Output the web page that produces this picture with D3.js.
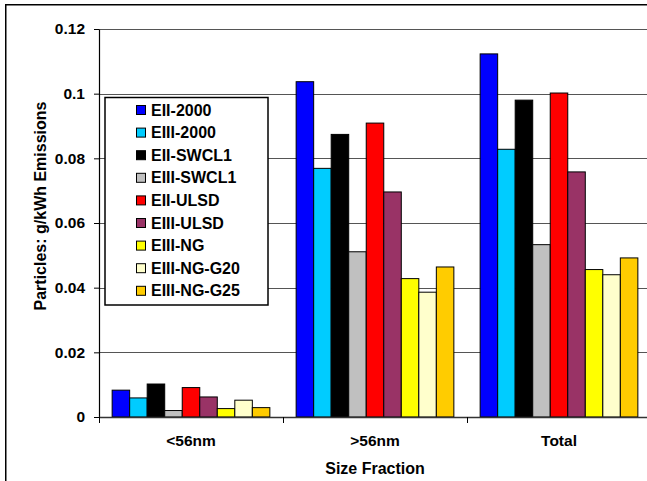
<!DOCTYPE html>
<html>
<head>
<meta charset="utf-8">
<script src="https://cdn.jsdelivr.net/npm/d3@7"></script>
<style>
  html, body { margin: 0; padding: 0; background: #fff; overflow: hidden; }
  svg { display: block; font-family: "Liberation Sans", Arial, sans-serif; }
</style>
</head>
<body>
<svg id="chart" width="647" height="481"></svg>
<script>
// Size fractions on the x axis
const categories = ["<56nm", ">56nm", "Total"];

// Engine / fuel configurations
const seriesNames = ["EII-2000", "EIII-2000", "EII-SWCL1", "EIII-SWCL1", "EII-ULSD",
                     "EIII-ULSD", "EIII-NG", "EIII-NG-G20", "EIII-NG-G25"];
const seriesColors = ["#0000ff", "#00ccff", "#000000", "#c0c0c0", "#ff0000",
                      "#993366", "#ffff00", "#ffffcc", "#ffcc00"];

// Particle emissions, g/kWh, per series in category order
const EII_2000    = [0.0083, 0.1037, 0.1123];
const EIII_2000   = [0.0059, 0.0769, 0.0828];
const EII_SWCL1   = [0.0102, 0.0874, 0.0980];
const EIII_SWCL1  = [0.0020, 0.0511, 0.0533];
const EII_ULSD    = [0.0091, 0.0909, 0.1002];
const EIII_ULSD   = [0.0062, 0.0696, 0.0758];
const EIII_NG     = [0.0026, 0.0428, 0.0456];
const EIII_NG_G20 = [0.0052, 0.0386, 0.0440];
const EIII_NG_G25 = [0.0029, 0.0464, 0.0492];

const yTicks = [0, 0.02, 0.04, 0.06, 0.08, 0.1, 0.12];
const yTickLabels = ["0", "0.02", "0.04", "0.06", "0.08", "0.1", "0.12"];

const seriesValues = [EII_2000, EIII_2000, EII_SWCL1, EIII_SWCL1, EII_ULSD,
                      EIII_ULSD, EIII_NG, EIII_NG_G20, EIII_NG_G25];

const svg = d3.select("#chart");

// Outer chart frame (extends past the window on right and bottom)
svg.append("rect")
  .attr("x", 5.75).attr("y", 4.75)
  .attr("width", 700).attr("height", 600)
  .attr("fill", "#fff").attr("stroke", "#000").attr("stroke-width", 1.5);

const plot = { left: 99, right: 651, top: 29, bottom: 417 };

const x0 = d3.scaleBand().domain(categories)
  .range([plot.left, plot.right]).paddingInner(0).paddingOuter(0);
// 150% gap between clusters: each category holds 9 bars plus 1.5 bar widths of gap
const barW = x0.bandwidth() / 10.5;
const x1 = d3.scaleBand().domain(seriesNames)
  .range([0.75 * barW, x0.bandwidth() - 0.75 * barW]).padding(0);
const y = d3.scaleLinear().domain([0, 0.12]).range([plot.bottom, plot.top]);

// Gridlines
svg.append("g").selectAll("line")
  .data(yTicks.filter(d => d > 0))
  .join("line")
  .attr("x1", plot.left).attr("x2", plot.right)
  .attr("y1", d => Math.round(y(d)) + 0.5).attr("y2", d => Math.round(y(d)) + 0.5)
  .attr("stroke", "#555").attr("stroke-width", 1);

// Bars
const groups = svg.append("g").selectAll("g")
  .data(seriesNames.map((name, i) => ({ name, color: seriesColors[i], values: seriesValues[i] })))
  .join("g")
  .attr("fill", d => d.color);

groups.selectAll("rect")
  .data(d => d.values.map((v, j) => ({ name: d.name, cat: categories[j], v })))
  .join("rect")
  .attr("x", d => x0(d.cat) + x1(d.name))
  .attr("y", d => y(d.v))
  .attr("width", x1.bandwidth())
  .attr("height", d => y(0) - y(d.v))
  .attr("stroke", "#000").attr("stroke-width", 1);

// Y axis
const yAxis = d3.axisLeft(y).tickValues(yTicks)
  .tickFormat((d, i) => yTickLabels[i]).tickSize(5).tickSizeOuter(0).tickPadding(9);
const gy = svg.append("g").attr("transform", `translate(${plot.left},0)`).call(yAxis);
gy.select(".domain").attr("stroke", "#000").attr("stroke-width", 1.2);
gy.selectAll(".tick line").attr("stroke", "#000");
gy.selectAll(".tick text")
  .attr("font-family", "Liberation Sans, Arial, sans-serif")
  .attr("font-size", 15.5).attr("font-weight", "bold").attr("fill", "#000");

// X axis: ticks at category boundaries, labels centred under clusters
const gx = svg.append("g").attr("transform", `translate(0,${plot.bottom})`);
gx.append("line").attr("x1", plot.left).attr("x2", plot.right)
  .attr("y1", 0.5).attr("y2", 0.5).attr("stroke", "#333").attr("stroke-width", 1.5);
gx.selectAll("line.tk")
  .data(categories.map(c => x0(c)).concat([plot.right]))
  .join("line").attr("class", "tk")
  .attr("x1", d => d + 0.5).attr("x2", d => d + 0.5)
  .attr("y1", 0).attr("y2", 6).attr("stroke", "#000");
gx.selectAll("text")
  .data(categories)
  .join("text")
  .attr("x", d => x0(d) + x0.bandwidth() / 2)
  .attr("y", 29)
  .attr("text-anchor", "middle")
  .attr("font-size", 15.5).attr("font-weight", "bold")
  .text(d => d);

// Axis titles
svg.append("text")
  .attr("x", (plot.left + plot.right) / 2).attr("y", 474)
  .attr("text-anchor", "middle")
  .attr("font-size", 16).attr("font-weight", "bold")
  .text("Size Fraction");

svg.append("text")
  .attr("transform", "translate(46,206) rotate(-90)")
  .attr("text-anchor", "middle")
  .attr("font-size", 16).attr("font-weight", "bold")
  .text("Particles: g/kWh Emissions");

// Legend
const legend = svg.append("g");
legend.append("rect")
  .attr("x", 105).attr("y", 97.5).attr("width", 163).attr("height", 207.5)
  .attr("fill", "#fff").attr("stroke", "#000").attr("stroke-width", 1.5);
const items = legend.selectAll("g.item")
  .data(seriesNames.map((name, i) => ({ name, color: seriesColors[i] })))
  .join("g").attr("class", "item")
  .attr("transform", (d, i) => `translate(136,${110 + i * 22.6})`);
items.append("rect")
  .attr("x", 0.5).attr("y", -4.5).attr("width", 9).attr("height", 9)
  .attr("fill", d => d.color).attr("stroke", "#000").attr("stroke-width", 1);
items.append("text")
  .attr("x", 15).attr("y", 5.5)
  .attr("font-size", 16).attr("font-weight", "bold")
  .text(d => d.name);
</script>
</body>
</html>
